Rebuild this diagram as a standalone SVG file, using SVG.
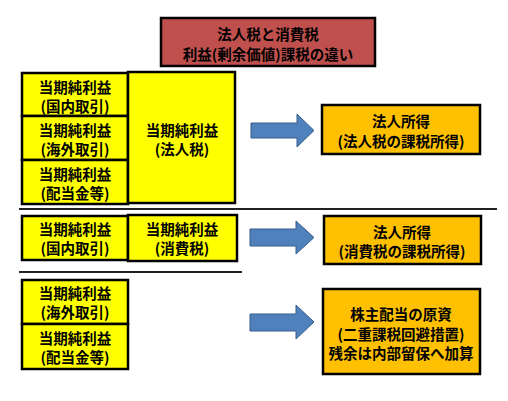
<svg xmlns="http://www.w3.org/2000/svg" width="508" height="401" viewBox="0 0 508 401">
<style>
text{font-family:"Noto Sans CJK JP","Noto Sans CJK SC",sans-serif;font-weight:bold;font-size:14.5px;fill:#000;text-anchor:middle;dominant-baseline:central}
.y{fill:#FFFF00;stroke:#000;stroke-width:2.5}
.o{fill:#FFC000;stroke:#000;stroke-width:2.5}
.r{fill:#C0504D;stroke:#000;stroke-width:2.5}
.ar{fill:#4F81BD;stroke:#385D8A;stroke-width:1}
.sep{stroke:#222;stroke-width:2}
</style>
<rect width="508" height="401" fill="#fff"/>
<g id="title"><rect class="r" x="161" y="18" width="214" height="48"/><text x="268" y="33">法人税と消費税</text><text x="268" y="53">利益(剰余価値)課税の違い</text></g>
<g id="s1a"><rect class="y" x="22" y="73" width="106" height="43"/><text x="75" y="86">当期純利益</text><text x="75" y="105">(国内取引)</text></g>
<g id="s1b"><rect class="y" x="22" y="116" width="106" height="44"/><text x="75" y="129">当期純利益</text><text x="75" y="148">(海外取引)</text></g>
<g id="s1c"><rect class="y" x="22" y="160" width="106" height="44"/><text x="75" y="173">当期純利益</text><text x="75" y="192">(配当金等)</text></g>
<g id="s1d"><rect class="y" x="128" y="72" width="107" height="131"/><text x="182" y="129">当期純利益</text><text x="182" y="148">(法人税)</text></g>
<g id="s1o"><rect class="o" x="322" y="105" width="158" height="49"/><text x="401" y="120">法人所得</text><text x="401" y="140">(法人税の課税所得)</text></g>
<g id="s2a"><rect class="y" x="22" y="216" width="106" height="44"/><text x="75" y="228.5">当期純利益</text><text x="75" y="247.5">(国内取引)</text></g>
<g id="s2b"><rect class="y" x="128" y="215" width="109" height="46"/><text x="182" y="228.5">当期純利益</text><text x="182" y="247.5">(消費税)</text></g>
<g id="s2o"><rect class="o" x="324" y="216" width="157" height="48"/><text x="402" y="231">法人所得</text><text x="402" y="250">(消費税の課税所得)</text></g>
<g id="s3a"><rect class="y" x="22" y="280" width="106" height="44"/><text x="75" y="292">当期純利益</text><text x="75" y="311">(海外取引)</text></g>
<g id="s3b"><rect class="y" x="22" y="324" width="106" height="45"/><text x="75" y="337">当期純利益</text><text x="75" y="356">(配当金等)</text></g>
<g id="s3o"><rect class="o" x="323" y="289" width="157" height="85"/><text x="401" y="313">株主配当の原資</text><text x="401" y="333">(二重課税回避措置)</text><text x="401" y="352">残余は内部留保へ加算</text></g>
<g id="connectors">
<line class="sep" x1="19" y1="209" x2="497" y2="209"/>
<line class="sep" x1="19" y1="272" x2="242" y2="272"/>
<polygon class="ar" points="251,123 297,123 297,114 314,130.5 297,147 297,138 251,138"/>
<polygon class="ar" points="250,229 296,229 296,221 314,237.5 296,254 296,246 250,246"/>
<polygon class="ar" points="250,314 296,314 296,305 314,322 296,339 296,331 250,331"/>
</g>
</svg>
